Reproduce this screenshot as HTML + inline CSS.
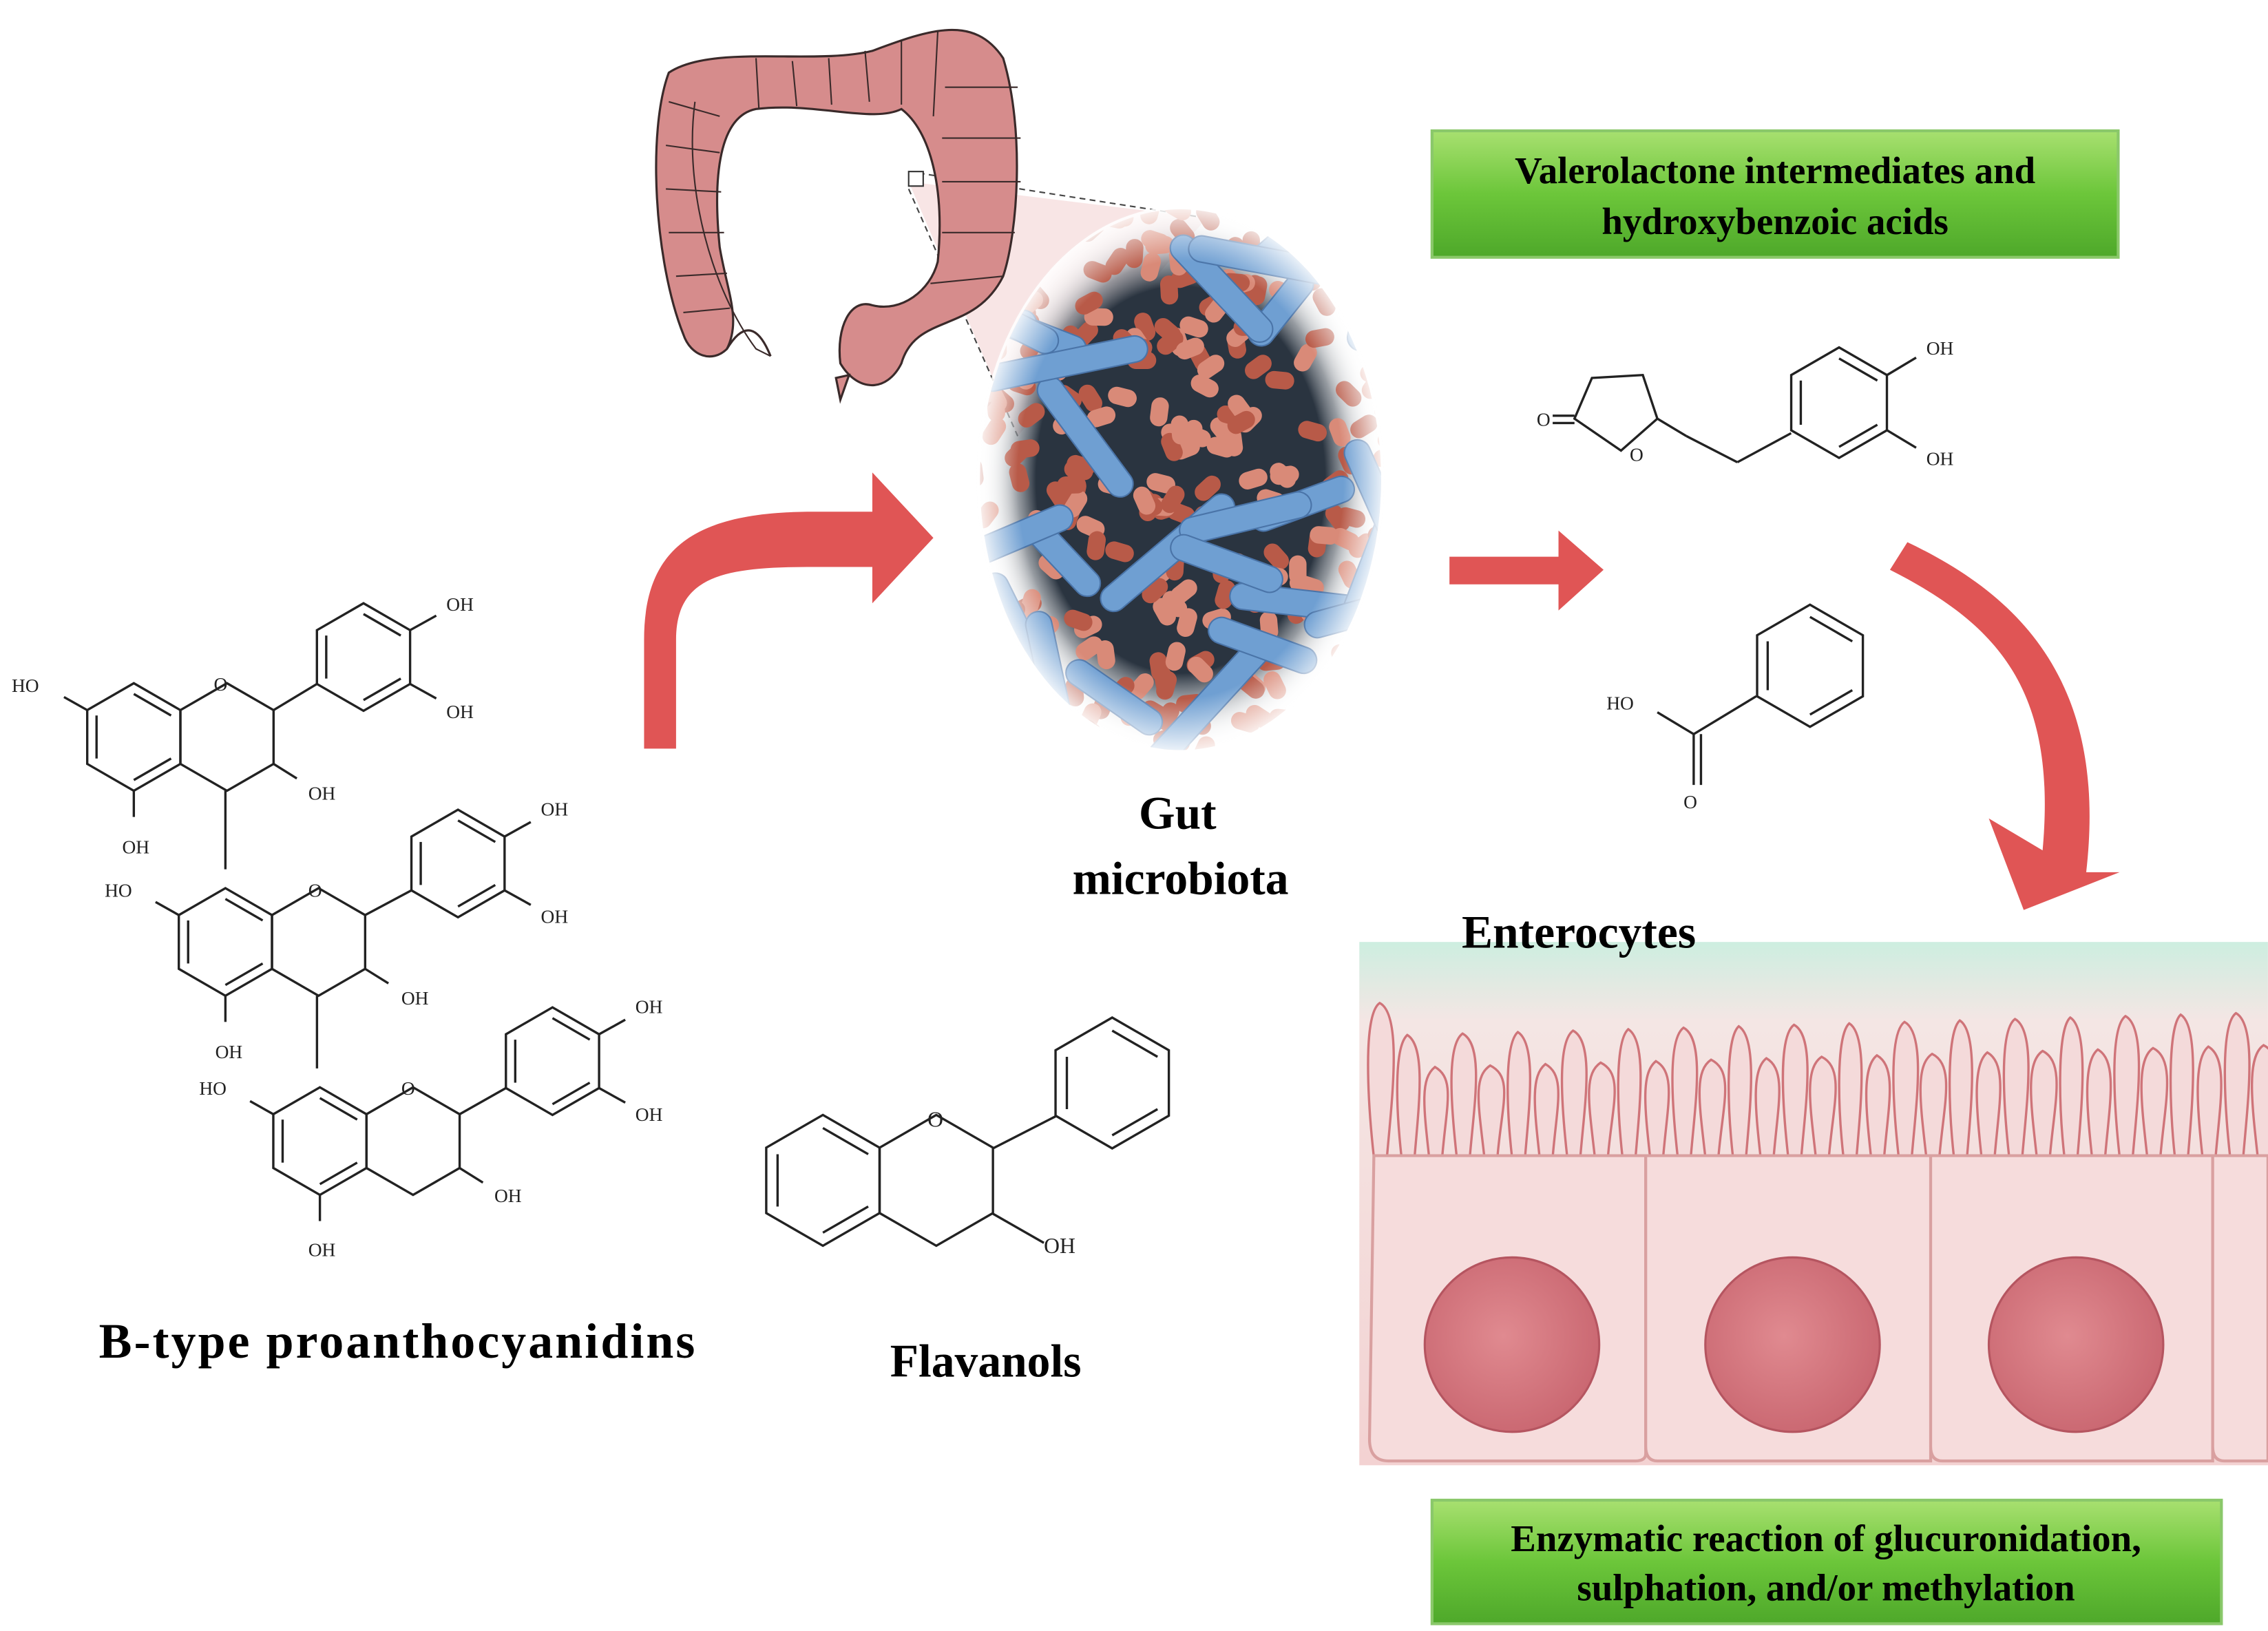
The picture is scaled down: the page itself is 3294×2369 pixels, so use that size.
<!DOCTYPE html>
<html><head><meta charset="utf-8">
<style>
html,body{margin:0;padding:0;background:#fff;}
svg{display:block;}
text{font-family:"Liberation Serif",serif;}
</style></head>
<body>
<svg id="s" width="3294" height="2369" viewBox="0 0 1560 1122" xmlns="http://www.w3.org/2000/svg">
<defs>
<linearGradient id="g" x1="0" y1="0" x2="0" y2="1"><stop offset="0" stop-color="#a8e070"/><stop offset="0.5" stop-color="#6cc63a"/><stop offset="1" stop-color="#4ea82a"/></linearGradient>
<radialGradient id="ov" cx="0.5" cy="0.5" r="0.5"><stop offset="0.7" stop-color="#2a3440"/><stop offset="1" stop-color="#ffffff" stop-opacity="0"/></radialGradient>
<radialGradient id="fade" cx="0.5" cy="0.5" r="0.5"><stop offset="0.8" stop-color="#fff" stop-opacity="0"/><stop offset="1" stop-color="#fff" stop-opacity="0.9"/></radialGradient>
<linearGradient id="ent" x1="0" y1="0" x2="0" y2="1"><stop offset="0" stop-color="#cdeee0"/><stop offset="0.15" stop-color="#f4e6e4"/><stop offset="1" stop-color="#f3d2d2"/></linearGradient>
<radialGradient id="nuc" cx="0.45" cy="0.45" r="0.6"><stop offset="0" stop-color="#e08a90"/><stop offset="1" stop-color="#c96670"/></radialGradient>
<clipPath id="oc"><ellipse cx="812" cy="330" rx="138" ry="186"/></clipPath>
</defs>

<polygon points="625,125 830,150 700,300" fill="#f6dede" opacity="0.8"/>
<line x1="625" y1="118" x2="830" y2="150" stroke="#444" stroke-dasharray="4,3"/>
<line x1="625" y1="130" x2="700" y2="300" stroke="#444" stroke-dasharray="4,3"/>

<g fill="#d68c8c" stroke="#3a2a2a" stroke-width="1.5">
<path d="M470,230 C450,180 445,90 460,50 C490,30 560,45 600,35 C640,20 670,10 690,40 C705,90 700,160 690,190 C670,230 630,215 620,250 C610,270 590,270 578,250 C575,225 585,205 600,210 C620,215 640,200 645,180 C650,130 640,90 620,75 C600,85 560,70 520,75 C495,80 490,120 495,170 C500,200 510,220 500,240 C490,250 475,245 470,230 Z"/>
<path d="M575,260 L578,275 L584,258 Z"/>
<path d="M500,240 C512,220 522,225 530,245" fill="none"/>
</g>
<g stroke="#3a2a2a" stroke-width="1" fill="none">
<path d="M460,70 L495,80 M458,100 L495,105 M458,130 L496,132 M460,160 L498,160 M465,190 L500,188 M470,215 L502,212"/>
<path d="M520,40 L522,75 M545,42 L548,73 M570,40 L572,72 M595,35 L598,70 M620,28 L620,72 M645,22 L642,80"/>
<path d="M650,60 L700,60 M648,95 L702,95 M648,125 L702,125 M648,160 L698,160 M640,195 L690,190"/>
<path d="M478,70 C470,130 490,200 520,240 L530,245"/>
</g>
<rect x="625" y="118" width="10" height="10" fill="#fff" stroke="#333"/>

<ellipse cx="812" cy="330" rx="142" ry="190" fill="url(#ov)"/>
<g clip-path="url(#oc)" id="bac"></g>
<ellipse cx="812" cy="330" rx="140" ry="188" fill="url(#fade)"/>

<path d="M443,515 L443,440 C443,375 480,352 560,352 L600,352 L600,325 L642,370 L600,415 L600,390 L560,390 C500,390 465,395 465,440 L465,515 Z" fill="#e05555"/>
<path d="M997,383 L1072,383 L1072,365 L1103,392 L1072,420 L1072,402 L997,402 Z" fill="#e05555"/>
<path d="M1300,392 L1312,373 C1390,410 1450,470 1435,600 L1458,600 L1392,626 L1368,563 L1405,585 C1415,475 1375,430 1300,392 Z" fill="#e05555"/>

<rect x="985" y="90" width="472" height="87" fill="url(#g)" stroke="#8ac86a" stroke-width="2"/>
<text x="1221" y="126" font-size="26" font-weight="bold" text-anchor="middle">Valerolactone intermediates and</text>
<text x="1221" y="161" font-size="26" font-weight="bold" text-anchor="middle">hydroxybenzoic acids</text>
<rect x="985" y="1032" width="543" height="85" fill="url(#g)" stroke="#8ac86a" stroke-width="2"/>
<text x="1256" y="1067" font-size="26" font-weight="bold" text-anchor="middle">Enzymatic reaction of glucuronidation,</text>
<text x="1256" y="1101" font-size="26" font-weight="bold" text-anchor="middle">sulphation, and/or methylation</text>

<rect x="935" y="648" width="625" height="360" fill="url(#ent)"/>
<g id="villi" fill="#f4dada" stroke="#cf7479" stroke-width="1.6"></g>
<g fill="#f6dcdc" stroke="#d9a0a0" stroke-width="2">
<path d="M945,795 L1132,795 L1132,1000 Q1132,1005 1125,1005 L955,1005 Q942,1005 942,990 Z"/>
<path d="M1132,795 L1328,795 L1328,1005 L1140,1005 Q1132,1005 1132,995 Z"/>
<path d="M1328,795 L1522,795 L1522,1005 L1336,1005 Q1328,1005 1328,995 Z"/>
<path d="M1522,795 L1560,795 L1560,1005 L1530,1005 Q1522,1005 1522,995 Z"/>
</g>
<g fill="url(#nuc)" stroke="#b55560" stroke-width="1.5">
<circle cx="1040" cy="925" r="60"/><circle cx="1233" cy="925" r="60"/><circle cx="1428" cy="925" r="60"/>
</g>

<text x="810" y="570" font-size="32" font-weight="bold" text-anchor="middle">Gut</text>
<text x="812" y="615" font-size="32" font-weight="bold" text-anchor="middle">microbiota</text>
<text x="1086" y="652" font-size="32" font-weight="bold" text-anchor="middle">Enterocytes</text>
<text x="273" y="934" font-size="34" font-weight="bold" text-anchor="middle" textLength="410">B-type proanthocyanidins</text>
<text x="678" y="947" font-size="32" font-weight="bold" text-anchor="middle">Flavanols</text>

<g id="chem" stroke="#222" stroke-width="1.6" fill="none"></g>
<g id="chemt" font-size="13" fill="#222"></g>
</svg>
<script>
var NS="http://www.w3.org/2000/svg";
function el(p,t,a){var e=document.createElementNS(NS,t);for(var k in a)e.setAttribute(k,a[k]);p.appendChild(e);return e;}
var ch=document.getElementById('chem'),ct=document.getElementById('chemt');
function hex(cx,cy,r,inner){var p=[];for(var i=0;i<6;i++){var a=Math.PI/180*(60*i-90);p.push([cx+r*Math.cos(a),cy+r*Math.sin(a)]);}
el(ch,'polygon',{points:p.map(function(q){return q.join(',')}).join(' ')});
if(inner){for(var i=0;i<6;i+=2){var a=p[i],b=p[(i+1)%6],f=0.8;el(ch,'line',{x1:cx+(a[0]-cx)*f,y1:cy+(a[1]-cy)*f,x2:cx+(b[0]-cx)*f,y2:cy+(b[1]-cy)*f});}}return p;}
function L(a,b,c,d){el(ch,'line',{x1:a,y1:b,x2:c,y2:d});}
function T(x,y,s,fs){var t=el(ct,'text',{x:x,y:y});if(fs)t.setAttribute('font-size',fs);t.textContent=s;}
function unit(ax,ay,r,bx,by){hex(ax,ay,r,true);hex(ax+r*1.732,ay,r,false);hex(bx,by,r,true);
var cx=ax+r*1.732;L(cx+r*0.866,ay-r/2,bx-r*0.866,by+r/2);
// OH bonds on B ring
L(bx+r*0.866,by-r/2,bx+r*0.866+18,by-r/2-10);L(bx+r*0.866,by+r/2,bx+r*0.866+18,by+r/2+10);
// A ring HO / OH
L(ax-r*0.866,ay-r/2,ax-r*0.866-16,ay-r/2-9);L(ax,ay+r,ax,ay+r+18);
// C ring OH
L(cx+r*0.866,ay+r/2,cx+r*0.866+16,ay+r/2+10);}
unit(92,507,37,250,452);unit(155,648,37,315,594);unit(220,785,37,380,730);
L(155,544,155,598);L(218,685,218,735);
T(8,476,"HO");T(147,475,"O");T(307,420,"OH");T(307,494,"OH");T(212,550,"OH");T(84,587,"OH");
T(72,617,"HO");T(212,617,"O");T(372,561,"OH");T(372,635,"OH");T(276,691,"OH");T(148,728,"OH");
T(137,753,"HO");T(276,753,"O");T(437,697,"OH");T(437,771,"OH");T(340,827,"OH");T(212,864,"OH");
hex(566,812,45,true);hex(644,812,45,false);hex(765,745,45,true);
L(683,790,726,768);L(683,835,718,855);T(718,862,"OH",15);T(638,775,"O",15);
el(ch,'polygon',{points:"1083,288 1095,260 1130,258 1140,288 1115,310"});
L(1083,286,1068,286);L(1083,291,1068,291);T(1057,293,"O");T(1121,317,"O");
L(1140,288,1160,300);L(1160,300,1195,318);L(1195,318,1232,298);
hex(1265,277,38,true);L(1298,258,1318,246);L(1298,296,1318,308);T(1325,244,"OH");T(1325,320,"OH");
hex(1245,458,42,true);L(1208,479,1165,505);L(1165,505,1165,540);L(1170,505,1170,540);L(1165,505,1140,490);
T(1105,488,"HO");T(1158,556,"O");
var b=document.getElementById('bac');var seed=7;function rnd(){seed=(seed*9301+49297)%233280;return seed/233280;}
for(var i=0;i<260;i++){var x=670+rnd()*290,y=140+rnd()*380,a=rnd()*180;el(b,'rect',{x:x-10,y:y-6,width:20,height:12,rx:6,fill:rnd()<0.5?'#b85a48':'#d98a78',transform:'rotate('+a+' '+x+' '+y+')'});}
for(var i=0;i<26;i++){var x=680+rnd()*270,y=150+rnd()*360,a=rnd()*180,l=60+rnd()*60;el(b,'rect',{x:x-l/2,y:y-9,width:l,height:18,rx:9,fill:'#6f9fd2',stroke:'#4a74a8','stroke-width':1,transform:'rotate('+a+' '+x+' '+y+')'});}
var v=document.getElementById('villi');
for(var x=945;x<1560;x+=19){var h=690+((x*13)%45);var w=5+((x*7)%4);el(v,'path',{d:'M'+x+',796 C'+(x-4)+',760 '+(x-w)+','+(h+8)+' '+(x+4)+','+h+' C'+(x+12+w)+','+(h+8)+' '+(x+12)+',760 '+(x+9)+',796'});}
</script>
</body></html>
